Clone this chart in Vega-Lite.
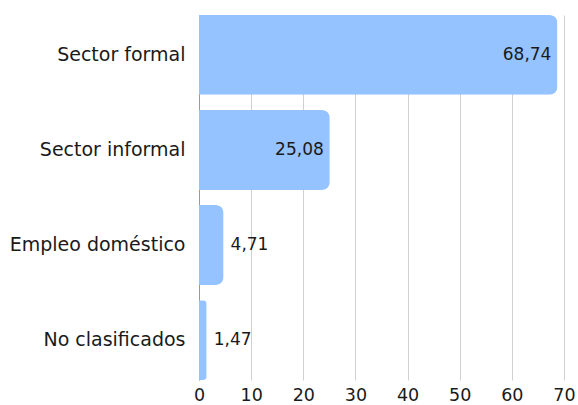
{
  "$schema": "https://vega.github.io/schema/vega-lite/v6.json",
  "autosize": "none",
  "width": 365,
  "height": 365,
  "padding": {"left": 199, "top": 15, "right": 14, "bottom": 25},
  "background": "white",
  "config": {
    "view": {"stroke": null},
    "font": "DejaVu Sans",
    "locale": {
      "number": {"decimal": ",", "thousands": ".", "grouping": [3], "currency": ["", " €"]}
    }
  },
  "data": {
    "values": [
      {"categoria": "Sector formal", "valor": 68.74},
      {"categoria": "Sector informal", "valor": 25.08},
      {"categoria": "Empleo doméstico", "valor": 4.71},
      {"categoria": "No clasificados", "valor": 1.47}
    ]
  },
  "encoding": {
    "y": {
      "field": "categoria",
      "type": "nominal",
      "sort": null,
      "scale": {"paddingInner": 0.16, "paddingOuter": 0},
      "axis": {
        "title": null,
        "ticks": false,
        "domain": true,
        "domainColor": "#999999",
        "domainWidth": 1,
        "labelFontSize": 19,
        "labelColor": "#1a1a1a",
        "labelPadding": 14,
        "labelFont": "DejaVu Sans"
      }
    },
    "x": {
      "field": "valor",
      "type": "quantitative",
      "scale": {"domain": [0, 70], "nice": false},
      "axis": {
        "title": null,
        "values": [0, 10, 20, 30, 40, 50, 60, 70],
        "ticks": false,
        "domain": false,
        "grid": true,
        "gridColor": "#d0d0d0",
        "gridWidth": 1,
        "labelFlush": false,
        "labelFontSize": 17.5,
        "labelColor": "#1a1a1a",
        "labelPadding": 6,
        "labelFont": "DejaVu Sans"
      }
    }
  },
  "layer": [
    {
      "mark": {"type": "bar", "color": "#94c3ff", "cornerRadiusEnd": 8}
    },
    {
      "transform": [{"filter": "datum.valor > 10"}],
      "mark": {"type": "text", "align": "right", "baseline": "middle", "dx": -6, "fontSize": 17, "color": "#1a1a1a"},
      "encoding": {"text": {"field": "valor", "type": "quantitative", "format": ".2f"}}
    },
    {
      "transform": [{"filter": "datum.valor <= 10"}],
      "mark": {"type": "text", "align": "left", "baseline": "middle", "dx": 7, "fontSize": 17, "color": "#1a1a1a"},
      "encoding": {"text": {"field": "valor", "type": "quantitative", "format": ".2f"}}
    }
  ]
}
